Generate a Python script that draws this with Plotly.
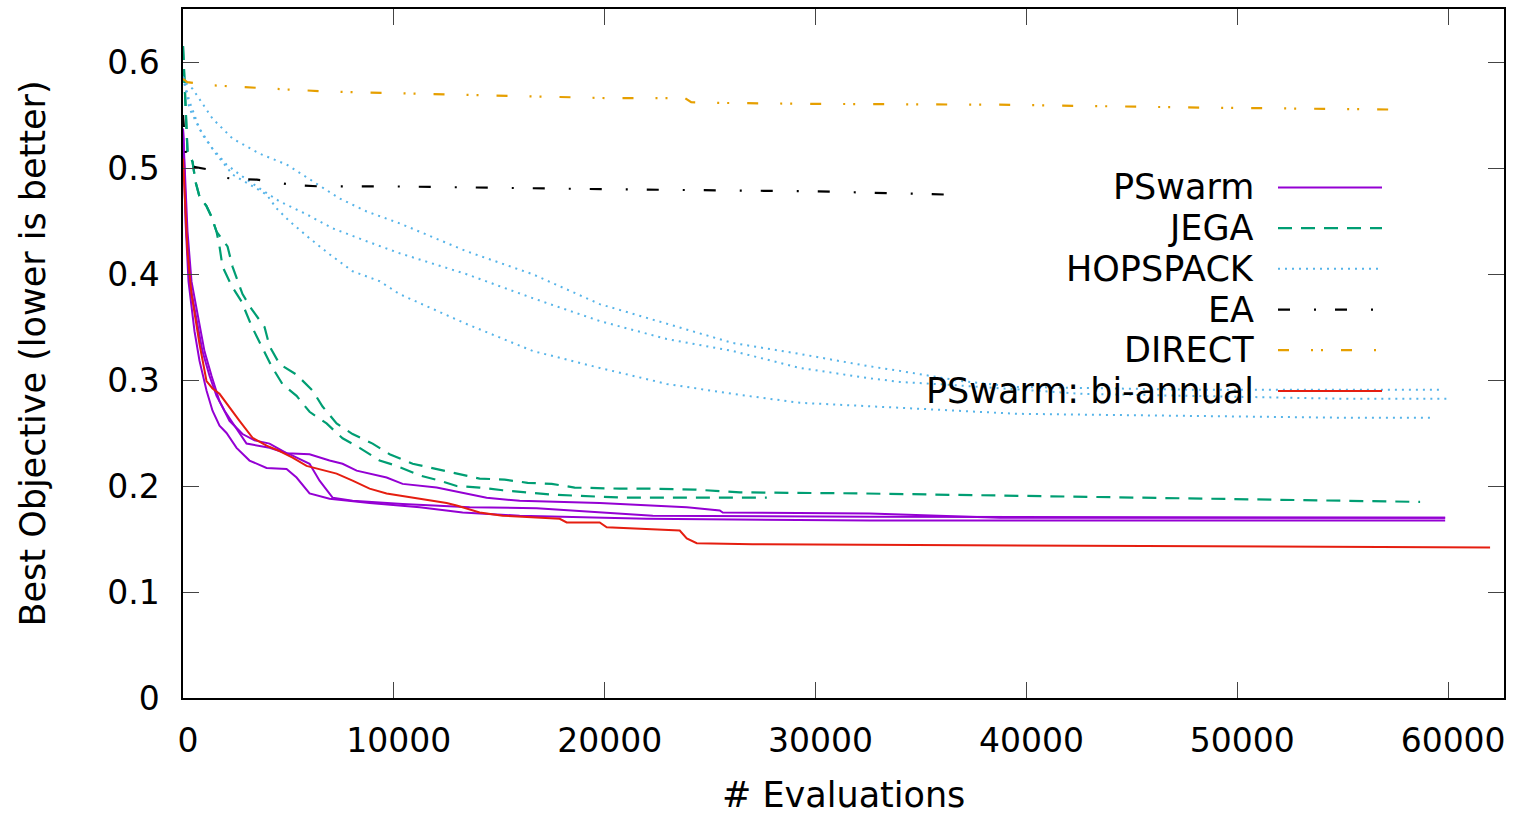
import plotly.graph_objects as go

# ---------------- data ----------------
PSWARM_A_EVALS = [0, 119, 261, 546, 783, 1115, 1400, 1732, 2064, 2539, 3155, 3962, 4911, 5386, 6002, 6951, 8849, 11222, 13262, 15967, 21994, 32574, 59859]
PSWARM_A_OBJ = [0.537, 0.4497, 0.393, 0.346, 0.318, 0.290, 0.271, 0.257, 0.250, 0.236, 0.224, 0.217, 0.216, 0.208, 0.193, 0.188, 0.184, 0.180, 0.175, 0.172, 0.169, 0.1675, 0.1675]

PSWARM_B_EVALS = [0, 166, 309, 641, 925, 1257, 1590, 1969, 2444, 3013, 4104, 5053, 6002, 6477, 7094, 8043, 10416, 13594, 16774, 18340, 20713, 22279, 32574, 59859]
PSWARM_B_OBJ = [0.537, 0.440, 0.393, 0.356, 0.327, 0.304, 0.285, 0.271, 0.257, 0.240, 0.236, 0.230, 0.221, 0.205, 0.189, 0.186, 0.183, 0.180, 0.179, 0.177, 0.174, 0.172, 0.171, 0.170]

PSWARM_C_EVALS = [0, 214, 403, 735, 1020, 1352, 1732, 2206, 2823, 3393, 4104, 4911, 6002, 6951, 7568, 8233, 8849, 9656, 10416, 12029, 14401, 15967, 19763, 22279, 23891, 25457, 25599, 32574, 35564, 38742, 59859]
PSWARM_C_OBJ = [0.537, 0.440, 0.393, 0.356, 0.327, 0.304, 0.280, 0.2615, 0.249, 0.243, 0.240, 0.231, 0.230, 0.224, 0.221, 0.2145, 0.2117, 0.208, 0.202, 0.1985, 0.189, 0.186, 0.184, 0.1816, 0.180, 0.177, 0.175, 0.174, 0.172, 0.170, 0.170]

JEGA_A_EVALS = [0, 214, 451, 593, 783, 1115, 1352, 1590, 2112, 2349, 2823, 3250, 3867, 4104, 4579, 5386, 6145, 6619, 7284, 8043, 8992, 9798, 10890, 12029, 12978, 14069, 15255, 16347, 17486, 18577, 20713, 22136, 24271, 26406, 32099, 38742, 48233, 58671]
JEGA_A_OBJ = [0.615, 0.5155, 0.506, 0.487, 0.473, 0.464, 0.454, 0.440, 0.426, 0.407, 0.381, 0.367, 0.350, 0.332, 0.315, 0.305, 0.290, 0.275, 0.259, 0.249, 0.240, 0.230, 0.221, 0.216, 0.2125, 0.207, 0.206, 0.203, 0.202, 0.1985, 0.1975, 0.1975, 0.1966, 0.194, 0.193, 0.191, 0.188, 0.185]

JEGA_B_EVALS = [0, 214, 451, 593, 783, 1115, 1352, 1590, 1732, 1874, 2301, 2776, 3250, 3725, 4199, 4721, 5386, 6002, 6809, 7568, 8375, 9324, 10131, 11222, 12171, 12978, 14069, 15160, 16299, 17391, 19621, 20855, 27687]
JEGA_B_OBJ = [0.615, 0.5155, 0.506, 0.487, 0.473, 0.464, 0.454, 0.440, 0.426, 0.407, 0.389, 0.374, 0.351, 0.332, 0.313, 0.296, 0.285, 0.270, 0.259, 0.245, 0.236, 0.224, 0.219, 0.210, 0.205, 0.200, 0.1985, 0.196, 0.194, 0.192, 0.190, 0.189, 0.189]

HOPSPACK_A_EVALS = [0, 166, 451, 1400, 2349, 3630, 4911, 6145, 7426, 8707, 10273, 13452, 16584, 19763, 22942, 26074, 29253, 32432, 33998, 36845, 39550, 48233, 59622]
HOPSPACK_A_OBJ = [0.586, 0.5795, 0.5748, 0.5466, 0.5278, 0.5136, 0.5033, 0.4873, 0.4713, 0.4590, 0.4478, 0.4214, 0.3998, 0.3716, 0.3528, 0.3349, 0.3246, 0.3133, 0.3086, 0.2992, 0.2935, 0.2907, 0.2907]

HOPSPACK_B_EVALS = [0, 309, 783, 1400, 2064, 2681, 3630, 4579, 5860, 7094, 8707, 10273, 13452, 16584, 19763, 22942, 26074, 29253, 32432, 33998, 36370, 42682, 55351, 59954]
HOPSPACK_B_OBJ = [0.586, 0.5626, 0.537, 0.5183, 0.5033, 0.4939, 0.4807, 0.4685, 0.4563, 0.4431, 0.4309, 0.4196, 0.3998, 0.3772, 0.3556, 0.3387, 0.3274, 0.3114, 0.302, 0.2982, 0.2954, 0.2869, 0.2822, 0.2822]

HOPSPACK_C_EVALS = [0, 309, 925, 1590, 2349, 3155, 3962, 4437, 5053, 6002, 6951, 8043, 9324, 10273, 13452, 16584, 19763, 22942, 26074, 29253, 32432, 33998, 39550, 55351, 59290]
HOPSPACK_C_OBJ = [0.586, 0.556, 0.5315, 0.5127, 0.4939, 0.4845, 0.475, 0.4619, 0.4497, 0.4337, 0.4186, 0.4026, 0.3932, 0.381, 0.3528, 0.3274, 0.3114, 0.2963, 0.2869, 0.2785, 0.2756, 0.2738, 0.2681, 0.2643, 0.2643]

EA_EVALS = [0, 150, 250, 1100, 1600, 2300, 3500, 4500, 5200, 6500, 10000, 20000, 30000, 36100]
EA_OBJ = [0.55, 0.51, 0.502, 0.499, 0.492, 0.490, 0.489, 0.486, 0.484, 0.4826, 0.4826, 0.480, 0.478, 0.475]

DIRECT_EVALS = [0, 200, 1400, 3000, 5000, 7000, 9000, 11000, 15000, 20000, 23800, 24100, 25000, 30000, 38700, 48200, 58200]
DIRECT_OBJ = [0.584, 0.581, 0.578, 0.576, 0.574, 0.572, 0.571, 0.570, 0.568, 0.566, 0.566, 0.562, 0.5615, 0.5605, 0.5597, 0.557, 0.555]

BIANNUAL_EVALS = [0, 214, 403, 783, 1115, 1400, 1732, 2206, 2681, 3298, 3962, 4579, 5196, 5860, 6477, 7284, 8043, 8849, 9656, 10890, 12503, 12978, 14069, 15160, 17865, 18197, 19763, 20095, 23559, 23891, 24366, 27023, 38742, 61990]
BIANNUAL_OBJ = [0.509, 0.421, 0.381, 0.334, 0.299, 0.292, 0.287, 0.274, 0.2615, 0.2455, 0.238, 0.233, 0.2267, 0.219, 0.216, 0.2117, 0.205, 0.1975, 0.193, 0.189, 0.184, 0.1816, 0.175, 0.172, 0.169, 0.1656, 0.1656, 0.161, 0.158, 0.1505, 0.146, 0.145, 0.144, 0.142]

LEGEND_LABELS = ["PSwarm", "JEGA", "HOPSPACK", "EA", "DIRECT", "PSwarm: bi-annual"]
X_TICKS = [0, 10000, 20000, 30000, 40000, 50000, 60000]
Y_TICKS = [0, 0.1, 0.2, 0.3, 0.4, 0.5, 0.6]
X_TITLE = "# Evaluations"
Y_TITLE = "Best Objective (lower is better)"

# ---------------- styles ----------------
FONT = "DejaVu Sans"
FS_TICK = 33
FS_TEXT = 35
STYLES = {
    "PSwarm": dict(color="#9400d3", dash="solid", width=2),
    "JEGA": dict(color="#009e73", dash="14px,9px", width=2.2),
    "HOPSPACK": dict(color="#56b4e9", dash="2px,5px", width=2),
    "EA": dict(color="#000000", dash="12px,24px,2px,19px", width=2.2),
    "DIRECT": dict(color="#e69f00", dash="11px,22px,2px,8px,2px,18px", width=2.2),
    "PSwarm: bi-annual": dict(color="#e51e10", dash="solid", width=2),
}

series = [
    ("PSwarm", PSWARM_A_EVALS, PSWARM_A_OBJ),
    ("PSwarm", PSWARM_B_EVALS, PSWARM_B_OBJ),
    ("PSwarm", PSWARM_C_EVALS, PSWARM_C_OBJ),
    ("JEGA", JEGA_A_EVALS, JEGA_A_OBJ),
    ("JEGA", JEGA_B_EVALS, JEGA_B_OBJ),
    ("HOPSPACK", HOPSPACK_A_EVALS, HOPSPACK_A_OBJ),
    ("HOPSPACK", HOPSPACK_B_EVALS, HOPSPACK_B_OBJ),
    ("HOPSPACK", HOPSPACK_C_EVALS, HOPSPACK_C_OBJ),
    ("EA", EA_EVALS, EA_OBJ),
    ("DIRECT", DIRECT_EVALS, DIRECT_OBJ),
    ("PSwarm: bi-annual", BIANNUAL_EVALS, BIANNUAL_OBJ),
]

fig = go.Figure()
for name, xs, ys in series:
    fig.add_trace(go.Scatter(x=xs, y=ys, mode="lines", name=name, showlegend=False,
                             line=STYLES[name]))

# ---------------- gnuplot-style key (text right, sample on right) ----------------
W, H = 1515, 817
ML, MR, MT, MB = 183, 11, 7, 119
pw, ph = W - ML - MR, H - MT - MB

def px_to_paper_x(px):
    return (px - ML) / pw

def px_to_paper_y(py):
    return (H - MB - py) / ph

key_y0 = 186
key_dy = 40.8
annotations = []
shapes = []
for i, lab in enumerate(LEGEND_LABELS):
    yy = px_to_paper_y(key_y0 + i * key_dy)
    annotations.append(dict(text=lab, xref="paper", yref="paper", x=px_to_paper_x(1256), y=yy,
                            xanchor="right", yanchor="middle", showarrow=False,
                            font=dict(family=FONT, size=FS_TEXT, color="#000")))
    st = STYLES[lab]
    shapes.append(dict(type="line", xref="paper", yref="paper",
                       x0=px_to_paper_x(1278), x1=px_to_paper_x(1382), y0=yy, y1=yy,
                       line=dict(color=st["color"], dash=st["dash"], width=st["width"])))

annotations.append(dict(text=X_TITLE, xref="paper", yref="paper", x=0.5, y=px_to_paper_y(817),
                        xanchor="center", yanchor="bottom", showarrow=False,
                        font=dict(family=FONT, size=FS_TEXT, color="#000")))
annotations.append(dict(text=Y_TITLE, xref="paper", yref="paper", x=px_to_paper_x(32), y=0.5,
                        xanchor="center", yanchor="middle", textangle=-90, showarrow=False,
                        font=dict(family=FONT, size=FS_TEXT, color="#000")))

axis_common = dict(showline=True, linecolor="#000", linewidth=1.5, mirror="allticks",
                   ticks="inside", ticklen=16, tickwidth=1.3, tickcolor="#444",
                   showgrid=False, zeroline=False,
                   tickfont=dict(family=FONT, size=FS_TICK, color="#000"))

fig.update_layout(
    width=W, height=H,
    margin=dict(l=ML, r=MR, t=MT, b=MB, pad=0),
    paper_bgcolor="white", plot_bgcolor="white",
    xaxis=dict(range=[0, 62650], tickvals=X_TICKS, ticktext=[str(v) for v in X_TICKS],
               ticklabelstandoff=13, ticklabelshift=5, **axis_common),
    yaxis=dict(range=[0, 0.65], tickvals=Y_TICKS, ticktext=[("%g" % v) for v in Y_TICKS],
               ticklabelstandoff=15, **axis_common),
    annotations=annotations, shapes=shapes,
    showlegend=False,
)

fig.write_html("out.html")
